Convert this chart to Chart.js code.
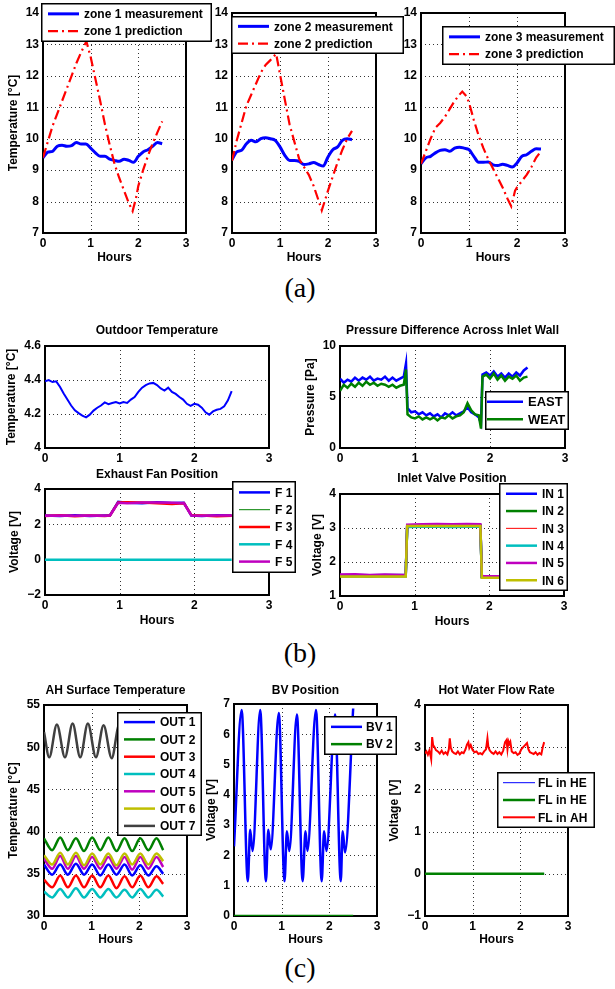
<!DOCTYPE html>
<html>
<head>
<meta charset="utf-8">
<script src="https://cdn.jsdelivr.net/npm/chart.js@4.4.0/dist/chart.umd.min.js"></script>
<style>
  body { margin: 0; background: #fff; width: 615px; height: 989px; position: relative; overflow: hidden; }
  canvas { position: absolute; }
  .cap { position: absolute; left: 250px; width: 100px; text-align: center; font: 28px/32px "Liberation Serif", "Times New Roman", serif; color: #000; }
</style>
</head>
<body>
<div class="cap" style="top:272px">(a)</div>
<div class="cap" style="top:637px">(b)</div>
<div class="cap" style="top:952px">(c)</div>
<script>
// ---- data: [hours, value] ----
const zone1Meas = [[0,9.39],[0.1,9.57],[0.2,9.6],[0.3,9.76],[0.4,9.79],[0.5,9.76],[0.6,9.78],[0.7,9.88],[0.8,9.83],[0.9,9.83],[1.0,9.7],[1.1,9.55],[1.2,9.44],[1.3,9.44],[1.4,9.35],[1.5,9.31],[1.6,9.28],[1.7,9.35],[1.8,9.31],[1.9,9.25],[2.0,9.44],[2.1,9.58],[2.2,9.65],[2.3,9.76],[2.4,9.88],[2.5,9.84]];
const zone1Pred = [[0,9.4],[0.1,9.9],[0.2,10.4],[0.3,10.8],[0.4,11.2],[0.5,11.6],[0.6,12.0],[0.7,12.4],[0.8,12.75],[0.91,13.1],[1.0,12.6],[1.1,11.9],[1.2,11.2],[1.3,10.45],[1.4,9.8],[1.5,9.2],[1.6,8.75],[1.7,8.35],[1.8,7.95],[1.88,7.7],[1.95,8.1],[2.0,8.5],[2.1,9.0],[2.2,9.45],[2.3,9.85],[2.4,10.2],[2.5,10.55]];
const zone2Meas = [[0,9.33],[0.1,9.58],[0.2,9.63],[0.3,9.84],[0.4,9.95],[0.5,9.9],[0.6,10.0],[0.7,10.03],[0.8,10.0],[0.9,9.95],[1.0,9.74],[1.1,9.47],[1.2,9.31],[1.3,9.31],[1.4,9.28],[1.5,9.18],[1.6,9.2],[1.7,9.24],[1.8,9.18],[1.9,9.13],[2.0,9.42],[2.1,9.65],[2.2,9.74],[2.3,9.95],[2.4,10.0],[2.5,9.97]];
const zone2Pred = [[0,9.3],[0.1,9.95],[0.2,10.5],[0.3,11.05],[0.4,11.4],[0.5,11.75],[0.6,12.1],[0.7,12.35],[0.8,12.5],[0.92,12.7],[1.0,12.05],[1.1,11.25],[1.2,10.45],[1.3,9.9],[1.4,9.35],[1.5,9.1],[1.6,8.85],[1.7,8.5],[1.8,8.05],[1.87,7.72],[1.95,8.1],[2.0,8.35],[2.1,8.8],[2.2,9.25],[2.3,9.65],[2.4,10.0],[2.5,10.25]];
const zone3Meas = [[0,9.2],[0.1,9.39],[0.2,9.44],[0.3,9.55],[0.4,9.63],[0.5,9.65],[0.6,9.6],[0.7,9.7],[0.8,9.73],[0.9,9.7],[1.0,9.65],[1.1,9.44],[1.2,9.25],[1.3,9.25],[1.4,9.26],[1.5,9.17],[1.6,9.15],[1.7,9.19],[1.8,9.15],[1.9,9.1],[2.0,9.23],[2.1,9.44],[2.2,9.49],[2.3,9.6],[2.4,9.68],[2.5,9.67]];
const zone3Pred = [[0,9.2],[0.1,9.6],[0.2,10.0],[0.3,10.35],[0.4,10.5],[0.5,10.7],[0.6,10.95],[0.7,11.2],[0.8,11.4],[0.86,11.5],[0.95,11.35],[1.0,11.15],[1.1,10.6],[1.2,10.1],[1.3,9.7],[1.4,9.35],[1.5,9.05],[1.6,8.75],[1.7,8.45],[1.8,8.1],[1.88,7.85],[1.96,8.35],[2.0,8.45],[2.1,8.65],[2.2,8.85],[2.3,9.1],[2.4,9.4],[2.5,9.6]];

const outdoorTemp = [[0,4.392],[0.05,4.4],[0.1,4.388],[0.15,4.392],[0.2,4.36],[0.25,4.32],[0.3,4.285],[0.35,4.25],[0.4,4.222],[0.45,4.205],[0.5,4.19],[0.55,4.18],[0.6,4.196],[0.65,4.22],[0.7,4.237],[0.75,4.25],[0.8,4.268],[0.85,4.258],[0.9,4.265],[0.95,4.27],[1.0,4.262],[1.05,4.27],[1.1,4.265],[1.15,4.285],[1.2,4.3],[1.25,4.33],[1.3,4.355],[1.35,4.37],[1.4,4.38],[1.45,4.383],[1.5,4.37],[1.55,4.35],[1.6,4.338],[1.65,4.355],[1.7,4.33],[1.75,4.318],[1.8,4.3],[1.85,4.285],[1.9,4.26],[1.95,4.248],[2.0,4.26],[2.05,4.255],[2.1,4.237],[2.15,4.21],[2.2,4.196],[2.25,4.215],[2.3,4.225],[2.35,4.23],[2.4,4.245],[2.45,4.28],[2.5,4.335]];

const pressureEast = [[0,6.8],[0.05,6.4],[0.1,6.7],[0.15,6.5],[0.2,6.9],[0.25,6.6],[0.3,6.9],[0.35,6.7],[0.4,7.0],[0.45,6.6],[0.5,6.8],[0.55,6.7],[0.6,7.0],[0.65,6.6],[0.7,6.9],[0.75,6.6],[0.8,6.8],[0.85,7.0],[0.88,8.3],[0.9,3.9],[0.95,3.5],[1.0,3.6],[1.05,3.3],[1.1,3.5],[1.15,3.2],[1.2,3.4],[1.25,3.1],[1.3,3.3],[1.35,3.0],[1.4,3.4],[1.45,3.2],[1.5,3.5],[1.55,3.2],[1.6,3.4],[1.65,3.6],[1.7,4.0],[1.75,3.5],[1.8,3.3],[1.85,3.0],[1.88,2.4],[1.9,7.2],[1.95,7.4],[2.0,7.1],[2.05,7.5],[2.1,7.0],[2.15,7.3],[2.2,6.9],[2.25,7.3],[2.3,7.0],[2.35,7.4],[2.4,7.1],[2.45,7.6],[2.5,7.9]];
const pressureWeat = [[0,5.6],[0.05,6.2],[0.1,5.9],[0.15,6.3],[0.2,6.0],[0.25,6.4],[0.3,6.1],[0.35,6.5],[0.4,6.2],[0.45,6.4],[0.5,6.1],[0.55,6.3],[0.6,6.2],[0.65,6.0],[0.7,6.2],[0.75,5.9],[0.8,6.1],[0.85,6.2],[0.88,7.7],[0.9,3.3],[0.95,3.0],[1.0,2.9],[1.05,3.1],[1.1,2.8],[1.15,3.0],[1.2,2.8],[1.25,3.0],[1.3,2.7],[1.35,3.0],[1.4,2.9],[1.45,3.2],[1.5,2.9],[1.55,3.1],[1.6,3.2],[1.65,3.5],[1.7,4.4],[1.75,3.7],[1.8,3.3],[1.85,3.2],[1.88,1.9],[1.9,7.0],[1.95,7.2],[2.0,6.8],[2.05,7.3],[2.1,6.7],[2.15,7.1],[2.2,6.6],[2.25,7.0],[2.3,6.8],[2.35,7.1],[2.4,6.6],[2.45,6.9],[2.5,7.0]];

const fanF1 = [[0,2.5],[0.2,2.47],[0.4,2.52],[0.6,2.47],[0.8,2.5],[0.87,2.5],[0.98,3.27],[1.1,3.22],[1.3,3.2],[1.5,3.25],[1.7,3.21],[1.86,3.22],[1.96,2.5],[2.1,2.47],[2.3,2.52],[2.5,2.5]];
const fanF2 = [[0,2.5],[0.2,2.5],[0.4,2.5],[0.6,2.5],[0.8,2.5],[0.87,2.5],[0.98,3.25],[1.1,3.22],[1.3,3.22],[1.5,3.23],[1.7,3.22],[1.86,3.22],[1.96,2.5],[2.1,2.5],[2.3,2.5],[2.5,2.5]];
const fanF3 = [[0,2.47],[0.2,2.52],[0.4,2.46],[0.6,2.5],[0.8,2.47],[0.87,2.5],[0.98,3.24],[1.1,3.25],[1.3,3.23],[1.5,3.2],[1.7,3.15],[1.86,3.2],[1.96,2.52],[2.1,2.5],[2.3,2.46],[2.5,2.48]];
const fanF4 = [[0,0],[0.5,0],[1.0,0],[1.5,0],[2.0,0],[2.5,0]];
const fanF5 = [[0,2.48],[0.2,2.5],[0.4,2.49],[0.6,2.5],[0.8,2.49],[0.87,2.5],[0.98,3.22],[1.1,3.2],[1.3,3.23],[1.5,3.24],[1.7,3.22],[1.86,3.2],[1.96,2.5],[2.1,2.49],[2.3,2.5],[2.5,2.5]];

const valveIn1 = [[0,1.6],[0.2,1.6],[0.4,1.59],[0.6,1.6],[0.88,1.6],[0.9,3.06],[1.1,3.08],[1.3,3.07],[1.5,3.08],[1.7,3.08],[1.88,3.08],[1.9,1.56],[2.1,1.56],[2.3,1.57],[2.5,1.56]];
const valveIn2 = [[0,1.58],[0.2,1.58],[0.4,1.58],[0.6,1.58],[0.88,1.58],[0.9,3.05],[1.1,3.07],[1.3,3.06],[1.5,3.07],[1.7,3.07],[1.88,3.07],[1.9,1.55],[2.1,1.55],[2.3,1.55],[2.5,1.55]];
const valveIn3 = [[0,1.6],[0.2,1.6],[0.4,1.6],[0.6,1.6],[0.88,1.6],[0.9,3.07],[1.1,3.08],[1.3,3.08],[1.5,3.08],[1.7,3.08],[1.88,3.08],[1.9,1.56],[2.1,1.56],[2.3,1.56],[2.5,1.56]];
const valveIn4 = [[0,1.62],[0.2,1.62],[0.4,1.61],[0.6,1.62],[0.88,1.62],[0.9,3.03],[1.1,3.04],[1.3,3.04],[1.5,3.03],[1.7,3.04],[1.88,3.04],[1.9,1.57],[2.1,1.57],[2.3,1.57],[2.5,1.57]];
const valveIn5 = [[0,1.63],[0.2,1.64],[0.4,1.62],[0.6,1.63],[0.88,1.62],[0.9,3.1],[1.1,3.11],[1.3,3.12],[1.5,3.11],[1.7,3.12],[1.88,3.11],[1.9,1.58],[2.1,1.58],[2.3,1.58],[2.5,1.58]];
const valveIn6 = [[0,1.57],[0.2,1.57],[0.4,1.57],[0.6,1.57],[0.88,1.57],[0.9,3.06],[1.1,3.06],[1.3,3.06],[1.5,3.06],[1.7,3.06],[1.88,3.06],[1.9,1.54],[2.1,1.54],[2.3,1.54],[2.5,1.54]];

const ahOut1 = [[0,36.1],[0.17,34.9],[0.34,36.1],[0.5,34.9],[0.67,36.2],[0.84,34.9],[1.01,36.1],[1.18,34.8],[1.35,36.1],[1.52,34.9],[1.69,36.1],[1.85,34.8],[2.02,36.0],[2.19,34.8],[2.36,35.9],[2.5,35.0]];
const ahOut2 = [[0,39.2],[0.17,37.8],[0.34,39.3],[0.5,37.8],[0.67,39.2],[0.84,37.7],[1.01,39.3],[1.18,37.8],[1.35,39.3],[1.52,37.7],[1.69,39.2],[1.85,37.7],[2.02,39.2],[2.19,37.8],[2.36,39.2],[2.5,37.8]];
const ahOut3 = [[0,34.3],[0.17,33.4],[0.34,34.8],[0.5,33.4],[0.67,34.8],[0.84,33.4],[1.01,34.8],[1.18,33.4],[1.35,34.8],[1.52,33.3],[1.69,34.7],[1.85,33.4],[2.02,34.8],[2.19,33.4],[2.36,34.7],[2.5,33.8]];
const ahOut4 = [[0,32.9],[0.17,32.2],[0.34,33.2],[0.5,32.2],[0.67,33.3],[0.84,32.2],[1.01,33.2],[1.18,32.2],[1.35,33.2],[1.52,32.2],[1.69,33.1],[1.85,32.2],[2.02,33.2],[2.19,32.2],[2.36,33.1],[2.5,32.3]];
const ahOut5 = [[0,36.8],[0.17,35.6],[0.34,37.1],[0.5,35.6],[0.67,37.1],[0.84,35.6],[1.01,37.0],[1.18,35.6],[1.35,37.0],[1.52,35.6],[1.69,37.0],[1.85,35.5],[2.02,37.0],[2.19,35.6],[2.36,37.0],[2.5,35.8]];
const ahOut6 = [[0,37.2],[0.17,36.1],[0.34,37.5],[0.5,36.1],[0.67,37.5],[0.84,36.0],[1.01,37.4],[1.18,36.1],[1.35,37.4],[1.52,36.0],[1.69,37.4],[1.85,36.1],[2.02,37.4],[2.19,36.1],[2.36,37.4],[2.5,36.5]];
const ahOut7 = [[0,51.8],[0.11,48.8],[0.27,52.7],[0.44,48.8],[0.6,52.8],[0.76,48.8],[0.92,52.8],[1.09,48.8],[1.25,52.6],[1.42,48.7],[1.58,52.7],[1.75,48.8],[1.91,52.7],[2.08,48.8],[2.24,52.7],[2.41,48.8],[2.5,50.5]];

const bvPos1 = [[0,2.3],[0.16,6.8],[0.29,1.15],[0.34,2.85],[0.39,2.15],[0.55,6.8],[0.67,1.15],[0.72,2.85],[0.77,2.2],[0.94,6.7],[1.06,1.15],[1.11,2.8],[1.16,2.15],[1.32,6.65],[1.44,1.15],[1.5,2.8],[1.54,2.15],[1.72,6.8],[1.84,1.15],[1.89,2.8],[1.94,2.15],[2.12,6.65],[2.24,1.15],[2.28,2.8],[2.33,2.1],[2.5,6.85]];
const bvPos2 = [[0,0],[2.5,0]];

const flowHE1 = [[0,0],[2.5,0]];
const flowHE2 = [[0,0],[2.5,0]];
const flowAH = [[0,2.85],[0.03,2.9],[0.06,2.82],[0.09,2.92],[0.12,2.78],[0.13,2.72],[0.15,3.24],[0.17,3.05],[0.2,3.0],[0.23,2.93],[0.27,2.9],[0.31,2.85],[0.35,2.92],[0.39,2.84],[0.43,2.88],[0.47,2.83],[0.5,2.95],[0.52,3.21],[0.54,3.0],[0.57,2.9],[0.61,2.86],[0.65,2.84],[0.69,2.9],[0.73,2.83],[0.77,2.88],[0.81,2.86],[0.85,2.95],[0.88,3.06],[0.91,3.12],[0.93,2.98],[0.96,3.05],[1.0,2.93],[1.04,2.88],[1.08,2.9],[1.12,2.84],[1.16,2.86],[1.2,2.83],[1.24,2.9],[1.28,2.95],[1.31,3.21],[1.33,3.0],[1.36,2.92],[1.4,2.87],[1.44,2.84],[1.48,2.9],[1.52,2.84],[1.56,2.88],[1.6,2.83],[1.64,2.92],[1.68,3.12],[1.71,3.17],[1.73,2.95],[1.75,3.14],[1.77,3.08],[1.79,3.13],[1.82,2.9],[1.86,2.86],[1.9,2.88],[1.94,2.82],[1.98,2.85],[2.02,2.95],[2.06,3.0],[2.1,3.05],[2.14,3.1],[2.17,2.95],[2.2,2.88],[2.24,2.86],[2.28,2.84],[2.32,2.88],[2.36,2.82],[2.4,2.86],[2.44,2.83],[2.47,3.0],[2.5,3.12]];

const BLUE = '#0000ff', GREEN = '#008000', RED = '#ff0000', CYAN = '#00bfbf',
      MAGENTA = '#bf00bf', YELLOW = '#bfbf00', GRAY = '#404040';
const FONT = '"Liberation Sans", Arial, Helvetica, sans-serif';
const LH = 14.4; // 12px * 1.2

Chart.defaults.font.family = FONT;
Chart.defaults.font.size = 12;
Chart.defaults.font.weight = 'bold';
Chart.defaults.color = '#000';

// dotted grid + axes box under the data, legend box on top of everything
const matlabBox = {
  id: 'matlabBox',
  beforeDatasetsDraw(chart) {
    const { ctx, chartArea: a, scales } = chart;
    ctx.save();
    ctx.strokeStyle = '#333';
    ctx.lineWidth = 1;
    ctx.setLineDash([1, 3]);
    ctx.beginPath();
    scales.x.ticks.forEach(tk => {
      const px = Math.round(scales.x.getPixelForValue(tk.value)) + 0.5;
      ctx.moveTo(px, a.top); ctx.lineTo(px, a.bottom);
    });
    scales.y.ticks.forEach(tk => {
      const py = Math.round(scales.y.getPixelForValue(tk.value)) + 0.5;
      ctx.moveTo(a.left, py); ctx.lineTo(a.right, py);
    });
    ctx.stroke();
    ctx.setLineDash([]);
    ctx.strokeStyle = '#000';
    ctx.lineWidth = 2;
    ctx.strokeRect(a.left, a.top, a.right - a.left, a.bottom - a.top);
    ctx.restore();
  },
  afterDraw(chart, args, opts) {
    const lg = opts.box;
    if (!lg) return;
    const ctx = chart.ctx;
    const ds = chart.data.datasets;
    const rowH = 17.3;
    const y0 = lg.y + (lg.h - ds.length * rowH) / 2 + rowH / 2;
    ctx.save();
    ctx.fillStyle = '#fff';
    ctx.fillRect(lg.x, lg.y, lg.w, lg.h);
    ctx.strokeStyle = '#000';
    ctx.lineWidth = 1.5;
    ctx.strokeRect(lg.x + 0.75, lg.y + 0.75, lg.w - 1.5, lg.h - 1.5);
    ctx.font = 'bold ' + lg.size + 'px ' + FONT;
    ctx.textBaseline = 'middle';
    ds.forEach((d, i) => {
      const yy = y0 + i * rowH;
      ctx.beginPath();
      ctx.setLineDash(d.borderDash || []);
      ctx.strokeStyle = d.borderColor;
      ctx.lineWidth = d.borderWidth;
      ctx.moveTo(lg.x + lg.lineStart, yy);
      ctx.lineTo(lg.x + 38, yy);
      ctx.stroke();
      ctx.setLineDash([]);
      ctx.fillStyle = '#000';
      ctx.fillText(d.label, lg.x + lg.textStart, yy + 1);
    });
    ctx.restore();
  }
};

function makeChart(p) {
  const [cx, cy, cw, ch] = p.canvas;
  const [l, t, r, b] = p.area;
  const c = document.createElement('canvas');
  c.width = cw; c.height = ch;
  c.style.left = cx + 'px'; c.style.top = cy + 'px';
  document.body.appendChild(c);

  let box = null;
  if (p.legend) {
    const [lx, ly, lw, lh] = p.legend;
    box = { x: lx - cx, y: ly - cy, w: lw, h: lh, size: p.legendSize || 12,
            lineStart: p.lineStart ?? 7, textStart: p.textStart ?? 43 };
  }

  return new Chart(c, {
    type: 'line',
    data: {
      datasets: p.series.map((s, i) => ({
        label: s.label,
        data: s.data,
        borderColor: s.color,
        borderWidth: s.width || 2.5,
        borderDash: s.dash || [],
        pointRadius: 0,
        fill: false,
        tension: s.smooth ? 0.4 : 0,
        cubicInterpolationMode: s.smooth ? 'monotone' : 'default',
        order: -i
      }))
    },
    options: {
      responsive: false,
      animation: false,
      devicePixelRatio: 1,
      events: [],
      layout: { padding: { left: 0, right: cx + cw - r, top: p.title ? 0 : t - cy, bottom: 0 } },
      plugins: {
        legend: { display: false },
        tooltip: { enabled: false },
        title: p.title ? {
          display: true, text: p.title, fullSize: false, color: '#000',
          font: { size: 12, weight: 'bold' },
          padding: { top: p.titleY - cy - LH / 2, bottom: t - p.titleY - LH / 2 }
        } : { display: false },
        matlabBox: { box: box }
      },
      scales: {
        x: {
          type: 'linear', min: 0, max: 3,
          afterFit: s => { s.height = cy + ch - b; },
          ticks: { stepSize: 1, padding: 3, maxRotation: 0, autoSkip: false },
          grid: { display: false, drawTicks: false },
          border: { display: false },
          title: p.xTitleY ? {
            display: true, text: 'Hours',
            padding: { top: 0, bottom: cy + ch - p.xTitleY - LH / 2 }
          } : { display: false }
        },
        y: {
          type: 'linear', min: p.y[0], max: p.y[1],
          afterFit: s => { s.width = l - cx; },
          ticks: {
            stepSize: p.y[2], padding: 4, autoSkip: false,
            callback: v => String(Math.round(v * 100) / 100).replace('-', '\u2212')
          },
          grid: { display: false, drawTicks: false },
          border: { display: false },
          title: p.yTitle ? {
            display: true, text: p.yTitle,
            padding: { top: p.yTitleX - cx - LH / 2, bottom: 0 }
          } : { display: false }
        }
      }
    },
    plugins: [matlabBox]
  });
}

const DASHDOT = [10, 4, 2, 4];

// ---- (a) zone temperatures ----
makeChart({
  canvas: [0, 0, 215, 270], area: [43, 13, 186, 233], y: [7, 14, 1],
  yTitle: 'Temperature [°C]', yTitleX: 14, xTitleY: 258, legend: [41, 3, 171, 39],
  series: [
    { label: 'zone 1 measurement', data: zone1Meas, color: BLUE, width: 3, smooth: true },
    { label: 'zone 1 prediction', data: zone1Pred, color: RED, width: 2.2, dash: DASHDOT }
  ]
});
makeChart({
  canvas: [200, 0, 206, 270], area: [232, 13, 376, 233], y: [7, 14, 1],
  xTitleY: 258, legend: [231, 16, 173, 38],
  series: [
    { label: 'zone 2 measurement', data: zone2Meas, color: BLUE, width: 3, smooth: true },
    { label: 'zone 2 prediction', data: zone2Pred, color: RED, width: 2.2, dash: DASHDOT }
  ]
});
makeChart({
  canvas: [400, 0, 215, 270], area: [421, 13, 565, 233], y: [7, 14, 1],
  xTitleY: 258, legend: [442, 26, 173, 39],
  series: [
    { label: 'zone 3 measurement', data: zone3Meas, color: BLUE, width: 3, smooth: true },
    { label: 'zone 3 prediction', data: zone3Pred, color: RED, width: 2.2, dash: DASHDOT }
  ]
});

// ---- (b) ventilation ----
makeChart({
  canvas: [0, 318, 300, 150], area: [45, 346, 269, 448], y: [4, 4.6, 0.2],
  title: 'Outdoor Temperature', titleY: 331, yTitle: 'Temperature [°C]', yTitleX: 12,
  series: [ { label: 'outdoor', data: outdoorTemp, color: BLUE, width: 2 } ]
});
makeChart({
  canvas: [300, 318, 315, 150], area: [340, 346, 565, 448], y: [0, 10, 5],
  title: 'Pressure Difference Across Inlet Wall', titleY: 331, yTitle: 'Pressure [Pa]', yTitleX: 311,
  legend: [485, 391, 84, 39], legendSize: 13, lineStart: 2, textStart: 43,
  series: [
    { label: 'EAST', data: pressureEast, color: BLUE, width: 2.5 },
    { label: 'WEAT', data: pressureWeat, color: GREEN, width: 2.5 }
  ]
});
makeChart({
  canvas: [0, 460, 300, 175], area: [45, 489, 269, 595], y: [-2, 4, 2],
  title: 'Exhaust Fan Position', titleY: 475, yTitle: 'Voltage [V]', yTitleX: 15, xTitleY: 621,
  legend: [232, 481, 64, 92],
  series: [
    { label: 'F 1', data: fanF1, color: BLUE },
    { label: 'F 2', data: fanF2, color: GREEN, width: 1 },
    { label: 'F 3', data: fanF3, color: RED },
    { label: 'F 4', data: fanF4, color: CYAN },
    { label: 'F 5', data: fanF5, color: MAGENTA }
  ]
});
makeChart({
  canvas: [300, 460, 315, 175], area: [340, 494, 564, 596], y: [1, 4, 1],
  title: 'Inlet Valve Position', titleY: 479, yTitle: 'Voltage [V]', yTitleX: 318, xTitleY: 622,
  legend: [499, 483, 69, 108],
  series: [
    { label: 'IN 1', data: valveIn1, color: BLUE },
    { label: 'IN 2', data: valveIn2, color: GREEN },
    { label: 'IN 3', data: valveIn3, color: RED, width: 1 },
    { label: 'IN 4', data: valveIn4, color: CYAN },
    { label: 'IN 5', data: valveIn5, color: MAGENTA },
    { label: 'IN 6', data: valveIn6, color: YELLOW }
  ]
});

// ---- (c) heating ----
makeChart({
  canvas: [0, 670, 205, 290], area: [44, 705, 187, 916], y: [30, 55, 5],
  title: 'AH Surface Temperature', titleY: 691, yTitle: 'Temperature [°C]', yTitleX: 14, xTitleY: 940,
  legend: [117, 712, 85, 124],
  series: [
    { label: 'OUT 1', data: ahOut1, color: BLUE, smooth: true },
    { label: 'OUT 2', data: ahOut2, color: GREEN, smooth: true },
    { label: 'OUT 3', data: ahOut3, color: RED, smooth: true },
    { label: 'OUT 4', data: ahOut4, color: CYAN, smooth: true },
    { label: 'OUT 5', data: ahOut5, color: MAGENTA, smooth: true },
    { label: 'OUT 6', data: ahOut6, color: YELLOW, smooth: true },
    { label: 'OUT 7', data: ahOut7, color: GRAY, smooth: true }
  ]
});
makeChart({
  canvas: [200, 670, 205, 290], area: [234, 704, 377, 916], y: [0, 7, 1],
  title: 'BV Position', titleY: 691, yTitle: 'Voltage [V]', yTitleX: 212, xTitleY: 940,
  legend: [324, 716, 73, 39], lineStart: 7, textStart: 42,
  series: [
    { label: 'BV 1', data: bvPos1, color: BLUE, smooth: true },
    { label: 'BV 2', data: bvPos2, color: GREEN }
  ]
});
makeChart({
  canvas: [385, 670, 230, 290], area: [425, 705, 568, 916], y: [-1, 4, 1],
  title: 'Hot Water Flow Rate', titleY: 691, yTitle: 'Voltage [V]', yTitleX: 395, xTitleY: 940,
  legend: [497, 772, 98, 56], lineStart: 6, textStart: 41,
  series: [
    { label: 'FL in HE', data: flowHE1, color: BLUE, width: 1 },
    { label: 'FL in HE', data: flowHE2, color: GREEN },
    { label: 'FL in AH', data: flowAH, color: RED, width: 2 }
  ]
});
</script>
</body>
</html>
